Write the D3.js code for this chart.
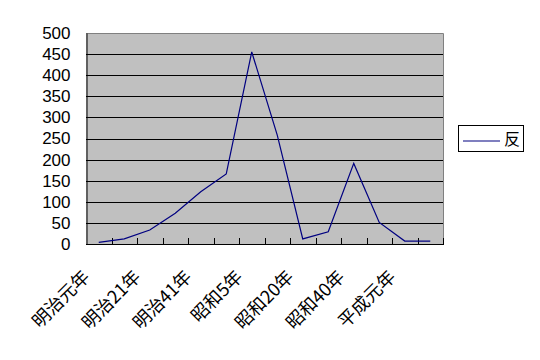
<!DOCTYPE html>
<html><head><meta charset="utf-8">
<script src="https://cdn.jsdelivr.net/npm/d3@7"></script>
<style>body{margin:0;background:#fff;} svg{display:block;} text.xl{font-feature-settings:"palt" 1, "pwid" 1;}</style>
</head><body>
<svg id="c" width="540" height="360"></svg>
<script>
const categories = ["明治元年","","明治２１年","","明治４１年","","昭和5年","","昭和２０年","","昭和４０年","","平成元年",""];
const seriesName = "反";
const values = [4, 12, 33, 73, 124, 166, 455, 258, 12, 29, 191, 51, 7, 7];
const yTicks = [0,50,100,150,200,250,300,350,400,450,500];

const svg = d3.select("#c");
const L = 86, R = 443, T = 33, B = 244;
const x = d3.scaleBand().domain(d3.range(categories.length)).range([L, R]).padding(0);
const y = d3.scaleLinear().domain([0, 500]).range([B, T]);

// plot background
svg.append("rect").attr("x", L).attr("y", T).attr("width", R - L).attr("height", B - T).attr("fill", "#c0c0c0");

// gridlines
svg.append("g").selectAll("line").data(yTicks.filter(d => d > 0)).join("line")
  .attr("x1", L).attr("x2", R).attr("y1", d => Math.round(y(d)) + 0.5).attr("y2", d => Math.round(y(d)) + 0.5)
  .attr("stroke", "#000").attr("stroke-width", 1);

// border top/right gray
svg.append("path").attr("d", `M${L},${T+0.5}H${R+0.5}V${B}`).attr("fill", "none").attr("stroke", "#808080");

// y axis
const yAxis = d3.axisLeft(y).tickValues(yTicks).tickSize(0).tickPadding(16);
const gy = svg.append("g").attr("transform", `translate(${L + 0.5},0)`).call(yAxis);
gy.select(".domain").attr("stroke", "#000");
gy.selectAll("text").attr("font-family", "Liberation Sans, Arial, sans-serif").attr("font-size", 17).attr("fill", "#000");

// x axis
svg.append("line").attr("x1", L).attr("x2", R + 1).attr("y1", B + 0.5).attr("y2", B + 0.5).attr("stroke", "#000");
svg.append("g").selectAll("line").data(d3.range(1, categories.length + 1)).join("line")
  .attr("x1", i => Math.round(L + i * x.bandwidth()) + 0.5).attr("x2", i => Math.round(L + i * x.bandwidth()) + 0.5)
  .attr("y1", B - 6).attr("y2", B + 0.5).attr("stroke", "#000");

// x labels
svg.append("g").selectAll("text").data(categories.map((c, i) => ({c, i})).filter(d => d.c)).join("text")
  .attr("class", "xl")
  .attr("transform", d => `translate(${x(d.i) + x.bandwidth() / 2 - 8},${B + 34}) rotate(-45)`)
  .attr("text-anchor", "end")
  .attr("font-family", "Noto Sans CJK JP, sans-serif").attr("font-size", 18).attr("fill", "#000")
  .text(d => d.c);

// line
const line = d3.line().x((d, i) => x(i) + x.bandwidth() / 2).y(d => y(d));
svg.append("path").datum(values).attr("d", line).attr("fill", "none").attr("stroke", "#000080").attr("stroke-width", 1.2);

// legend
svg.append("rect").attr("x", 458.5).attr("y", 125.5).attr("width", 65).attr("height", 26).attr("fill", "#fff").attr("stroke", "#000");
svg.append("line").attr("x1", 463).attr("x2", 500).attr("y1", 141).attr("y2", 141).attr("stroke", "#000080").attr("stroke-width", 1.2);
svg.append("text").attr("x", 504).attr("y", 145).attr("font-family", "Noto Sans CJK JP, sans-serif").attr("font-size", 16).attr("fill", "#000").text(seriesName);
</script>
</body></html>
